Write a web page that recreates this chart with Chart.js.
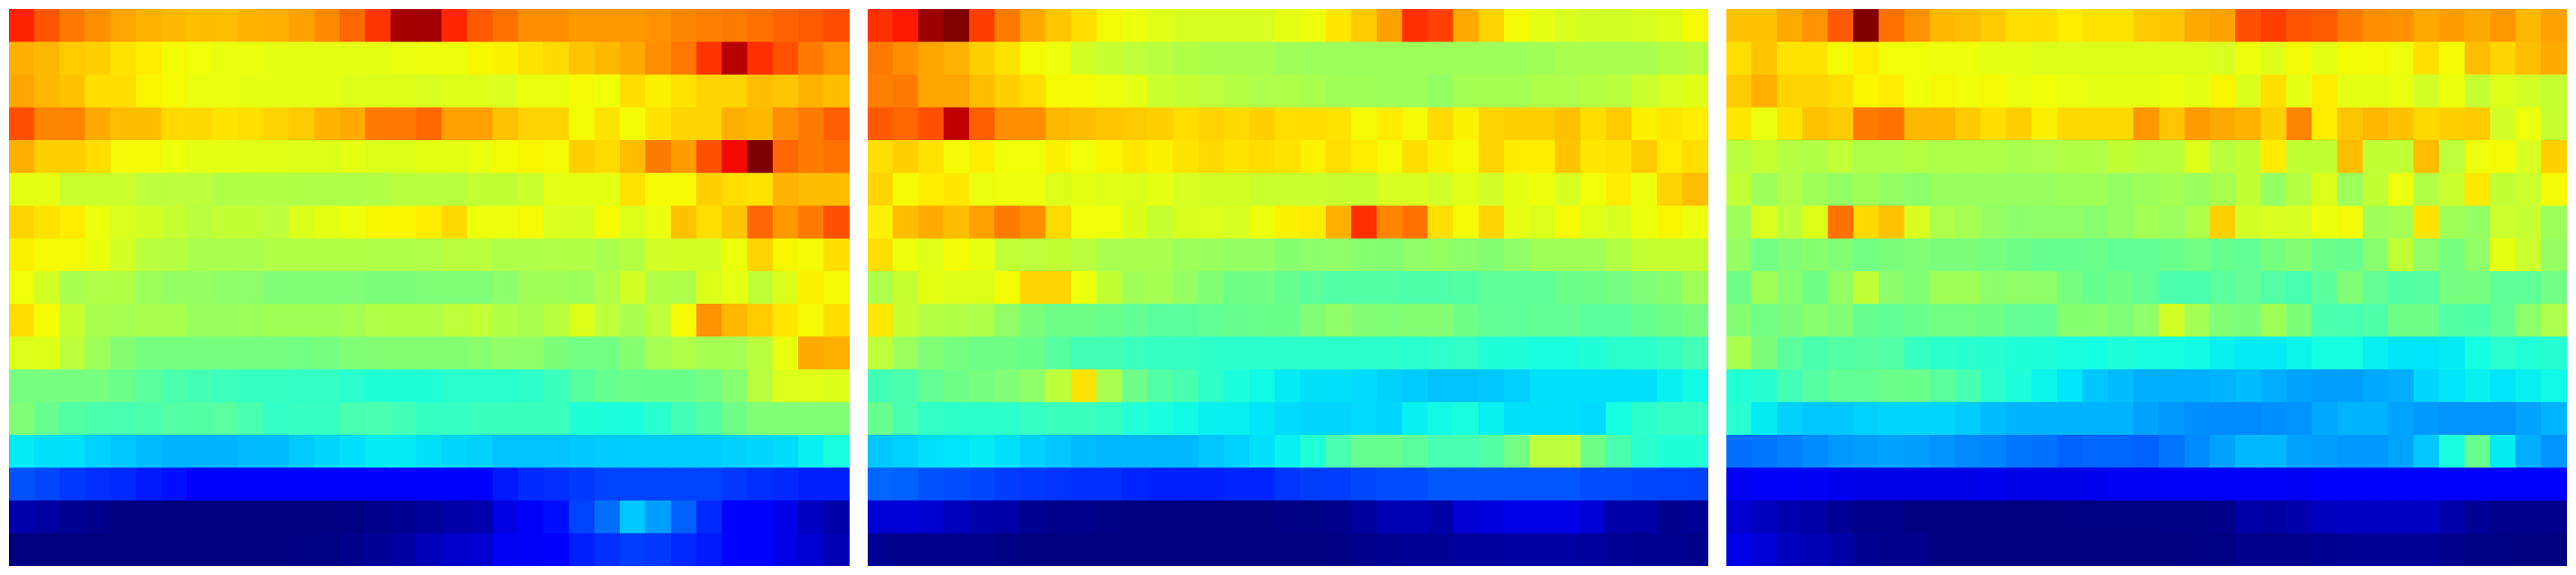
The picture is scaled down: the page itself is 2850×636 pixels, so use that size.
<!DOCTYPE html>
<html>
<head>
<meta charset="utf-8">
<title>Heatmaps</title>
<script src="https://cdn.jsdelivr.net/npm/chart.js@4/dist/chart.umd.min.js"></script>
<style>
    html, body { margin: 0; padding: 0; background: #fff; width: 2850px; height: 636px; overflow: hidden; }
    canvas { position: absolute; top: 10px; }
    #leftChart { left: 10px; }
    #middleChart { left: 960px; }
    #rightChart { left: 1910px; }
</style>
</head>
<body>
<canvas id="leftChart" width="930" height="616"></canvas>
<canvas id="middleChart" width="930" height="616"></canvas>
<canvas id="rightChart" width="930" height="616"></canvas>
<script>
const columns = ['1','2','3','4','5','6','7','8','9','10','11','12','13','14','15','16','17','18','19','20','21','22','23','24','25','26','27','28','29','30','31','32','33'];

// one line per row, top to bottom, values on the 0-1 colour range
const leftValues = [
    [.875,.82,.78,.76,.735,.72,.715,.71,.71,.72,.725,.74,.765,.80,.855,.965,.97,.87,.815,.79,.76,.76,.75,.75,.75,.755,.77,.775,.78,.79,.805,.815,.83],
    [.725,.715,.695,.69,.67,.66,.645,.64,.633,.633,.628,.628,.628,.628,.628,.633,.637,.637,.65,.655,.67,.68,.70,.715,.73,.76,.785,.855,.95,.86,.825,.78,.755],
    [.735,.715,.705,.675,.675,.65,.645,.633,.633,.628,.628,.628,.628,.622,.618,.618,.612,.618,.618,.612,.633,.633,.645,.64,.675,.655,.67,.685,.685,.71,.70,.72,.71],
    [.825,.77,.77,.73,.71,.71,.68,.68,.67,.675,.685,.695,.72,.73,.78,.78,.80,.74,.74,.705,.685,.685,.645,.67,.645,.67,.685,.685,.725,.715,.76,.78,.81],
    [.725,.69,.69,.675,.645,.645,.637,.628,.628,.622,.622,.618,.618,.628,.618,.618,.628,.628,.633,.645,.65,.645,.69,.68,.71,.78,.745,.825,.90,1,.80,.78,.79],
    [.628,.628,.595,.595,.595,.58,.58,.58,.565,.565,.565,.56,.56,.56,.565,.575,.575,.575,.585,.585,.595,.628,.628,.628,.67,.645,.645,.69,.675,.67,.72,.71,.71],
    [.685,.67,.66,.637,.612,.605,.59,.575,.585,.585,.58,.618,.628,.637,.65,.65,.66,.68,.637,.637,.645,.612,.612,.645,.618,.633,.705,.675,.70,.80,.75,.78,.825],
    [.655,.645,.645,.633,.605,.575,.57,.555,.555,.555,.565,.565,.565,.565,.56,.56,.565,.575,.575,.56,.56,.565,.565,.555,.57,.605,.605,.605,.637,.685,.65,.645,.675],
    [.64,.605,.555,.565,.565,.54,.53,.53,.525,.52,.505,.505,.505,.505,.50,.50,.505,.505,.505,.52,.545,.545,.54,.565,.605,.565,.56,.618,.628,.585,.618,.655,.645],
    [.675,.645,.59,.555,.55,.555,.555,.535,.535,.54,.545,.545,.545,.55,.565,.565,.565,.58,.585,.565,.555,.575,.618,.58,.555,.58,.645,.755,.715,.695,.665,.645,.675],
    [.618,.618,.58,.54,.51,.495,.495,.495,.495,.495,.495,.49,.495,.505,.51,.51,.51,.51,.515,.525,.525,.50,.49,.49,.515,.55,.565,.55,.55,.575,.633,.73,.725],
    [.495,.495,.495,.495,.48,.46,.44,.43,.42,.415,.415,.41,.41,.40,.39,.39,.39,.40,.40,.40,.405,.42,.455,.475,.48,.48,.48,.49,.515,.575,.618,.622,.618],
    [.505,.475,.45,.44,.435,.44,.45,.45,.455,.435,.41,.415,.415,.435,.44,.43,.415,.415,.42,.42,.42,.42,.39,.385,.385,.40,.43,.45,.485,.505,.505,.505,.505],
    [.355,.345,.345,.33,.32,.31,.30,.30,.30,.31,.31,.325,.335,.345,.355,.355,.345,.335,.33,.315,.315,.315,.32,.325,.325,.325,.325,.325,.33,.335,.34,.36,.38],
    [.205,.195,.18,.17,.165,.15,.14,.125,.12,.115,.115,.11,.11,.11,.11,.11,.115,.12,.125,.15,.165,.17,.18,.19,.19,.19,.19,.19,.18,.17,.165,.155,.155],
    [.04,.03,.015,.01,0,0,0,0,0,0,0,0,0,.003,.012,.015,.025,.035,.04,.085,.105,.14,.19,.235,.32,.28,.22,.165,.115,.11,.09,.06,.035],
    [0,0,0,0,0,0,0,0,0,0,0,.003,.005,.012,.02,.03,.05,.065,.07,.10,.105,.11,.155,.17,.185,.18,.165,.15,.115,.11,.09,.07,.045]
];

const middleValues = [
    [.86,.885,.975,1,.845,.78,.73,.70,.675,.645,.637,.622,.612,.612,.612,.612,.628,.637,.665,.695,.74,.86,.84,.73,.685,.645,.628,.612,.605,.605,.612,.618,.645],
    [.78,.76,.735,.72,.69,.67,.645,.637,.605,.59,.58,.575,.565,.555,.555,.555,.545,.54,.54,.54,.54,.54,.54,.54,.54,.54,.545,.555,.555,.555,.555,.57,.575],
    [.775,.78,.735,.735,.71,.69,.675,.645,.645,.637,.628,.595,.59,.58,.57,.56,.56,.555,.545,.545,.54,.54,.53,.55,.55,.55,.56,.56,.57,.575,.595,.612,.622],
    [.815,.80,.825,.945,.81,.76,.76,.715,.71,.70,.695,.69,.675,.685,.68,.69,.675,.675,.67,.645,.66,.645,.68,.655,.685,.69,.69,.705,.675,.695,.655,.665,.66],
    [.675,.69,.67,.645,.66,.64,.64,.655,.64,.65,.665,.655,.67,.68,.67,.675,.67,.655,.675,.66,.645,.675,.655,.645,.685,.66,.66,.70,.665,.67,.695,.66,.675],
    [.685,.645,.66,.665,.633,.637,.637,.618,.628,.622,.618,.628,.612,.605,.605,.595,.595,.595,.59,.59,.612,.612,.605,.622,.605,.628,.637,.612,.64,.66,.637,.685,.71],
    [.655,.71,.73,.71,.74,.78,.76,.68,.64,.64,.618,.59,.612,.618,.612,.637,.655,.66,.725,.86,.77,.79,.675,.645,.685,.628,.618,.645,.622,.612,.637,.65,.637],
    [.675,.637,.622,.645,.633,.585,.58,.585,.575,.555,.555,.555,.54,.535,.53,.53,.515,.52,.525,.515,.51,.525,.53,.52,.51,.525,.545,.545,.545,.565,.59,.59,.59],
    [.56,.59,.628,.618,.618,.645,.685,.685,.637,.585,.545,.55,.53,.505,.485,.49,.475,.46,.45,.45,.45,.445,.445,.45,.465,.465,.465,.48,.485,.495,.505,.515,.545],
    [.665,.59,.57,.565,.56,.525,.50,.485,.485,.48,.47,.46,.46,.47,.475,.48,.48,.505,.525,.51,.505,.51,.51,.485,.47,.465,.47,.47,.46,.46,.475,.485,.495],
    [.58,.535,.505,.495,.485,.485,.48,.455,.43,.43,.42,.415,.415,.405,.405,.405,.405,.405,.405,.405,.405,.40,.405,.41,.39,.385,.38,.38,.39,.40,.405,.415,.43],
    [.43,.44,.47,.485,.495,.505,.525,.58,.67,.555,.485,.45,.435,.405,.385,.37,.355,.345,.345,.34,.33,.325,.315,.315,.32,.33,.345,.345,.345,.345,.345,.36,.37],
    [.475,.44,.41,.405,.405,.405,.415,.42,.42,.415,.39,.38,.37,.36,.36,.35,.34,.335,.335,.34,.335,.36,.37,.38,.36,.345,.345,.345,.34,.375,.405,.415,.415],
    [.32,.33,.345,.35,.355,.345,.33,.32,.31,.305,.305,.305,.305,.32,.33,.345,.36,.39,.44,.475,.475,.46,.435,.435,.45,.49,.58,.58,.485,.44,.40,.39,.39],
    [.225,.22,.205,.20,.195,.185,.18,.175,.17,.17,.16,.155,.155,.155,.16,.16,.175,.185,.185,.195,.20,.20,.21,.21,.21,.21,.21,.21,.20,.20,.195,.19,.19],
    [.075,.075,.07,.055,.04,.035,.015,.01,.01,.005,0,0,0,0,0,0,.005,.005,.012,.025,.045,.045,.035,.075,.08,.09,.09,.09,.075,.035,.035,.015,.02],
    [.015,.01,.01,.01,.01,.005,0,0,0,0,0,0,0,0,0,0,0,0,.005,.012,.015,.02,.02,.025,.025,.03,.03,.03,.025,.02,.015,.015,.01]
];

const rightValues = [
    [.705,.705,.73,.755,.815,1,.79,.755,.715,.71,.695,.675,.675,.66,.67,.67,.695,.70,.73,.74,.825,.845,.82,.815,.78,.76,.755,.73,.745,.73,.75,.715,.74],
    [.675,.70,.67,.67,.645,.66,.64,.64,.637,.637,.628,.628,.618,.618,.618,.618,.618,.618,.618,.612,.637,.622,.645,.628,.645,.645,.637,.675,.645,.71,.685,.71,.73],
    [.695,.725,.685,.685,.675,.65,.66,.64,.645,.64,.645,.633,.64,.633,.628,.628,.628,.637,.628,.65,.618,.675,.628,.66,.628,.628,.633,.605,.637,.59,.618,.605,.59],
    [.665,.633,.67,.705,.695,.78,.79,.715,.715,.695,.675,.69,.655,.68,.68,.68,.75,.70,.745,.73,.72,.69,.77,.66,.70,.715,.705,.68,.69,.695,.605,.637,.59],
    [.575,.59,.57,.565,.585,.56,.56,.57,.56,.56,.56,.555,.56,.565,.565,.585,.575,.575,.618,.575,.585,.66,.585,.585,.71,.585,.585,.71,.58,.637,.645,.612,.69],
    [.585,.54,.565,.545,.53,.545,.53,.52,.535,.535,.535,.535,.535,.54,.545,.53,.54,.55,.535,.555,.585,.53,.57,.618,.54,.585,.637,.565,.595,.665,.585,.595,.645],
    [.54,.612,.58,.618,.79,.68,.705,.612,.56,.55,.53,.52,.525,.525,.515,.53,.55,.535,.56,.69,.605,.612,.612,.637,.645,.545,.55,.67,.545,.53,.595,.59,.54],
    [.53,.49,.505,.515,.505,.49,.50,.505,.50,.50,.495,.485,.475,.475,.48,.47,.47,.48,.49,.475,.47,.495,.51,.48,.475,.515,.585,.525,.495,.525,.628,.595,.53],
    [.485,.545,.515,.485,.53,.585,.52,.505,.545,.545,.52,.525,.525,.495,.475,.485,.47,.44,.44,.46,.47,.45,.435,.46,.505,.47,.45,.455,.495,.495,.465,.465,.49],
    [.51,.49,.50,.515,.505,.475,.47,.48,.49,.49,.485,.47,.47,.515,.515,.505,.52,.605,.55,.505,.50,.545,.50,.44,.435,.445,.485,.485,.45,.445,.47,.52,.56],
    [.555,.50,.46,.44,.45,.455,.45,.415,.405,.40,.395,.39,.385,.38,.375,.385,.38,.375,.37,.36,.355,.355,.365,.375,.375,.36,.35,.35,.355,.375,.40,.39,.395],
    [.39,.395,.43,.45,.47,.47,.48,.48,.46,.435,.40,.385,.365,.35,.32,.31,.295,.295,.295,.30,.31,.295,.285,.28,.28,.29,.295,.335,.35,.36,.35,.36,.37],
    [.395,.355,.33,.32,.32,.33,.335,.335,.335,.325,.31,.30,.30,.30,.30,.30,.285,.275,.265,.26,.26,.265,.27,.29,.30,.30,.285,.275,.27,.27,.27,.285,.30],
    [.235,.24,.25,.26,.275,.28,.285,.28,.27,.26,.255,.24,.235,.22,.225,.225,.22,.24,.26,.285,.305,.305,.285,.28,.275,.275,.285,.32,.38,.475,.355,.295,.27],
    [.10,.105,.105,.10,.095,.09,.09,.09,.09,.09,.095,.09,.09,.09,.095,.10,.10,.105,.105,.105,.105,.105,.10,.11,.115,.115,.12,.12,.12,.115,.11,.11,.11],
    [.07,.055,.04,.035,.02,.01,.01,0,0,0,0,0,0,.003,.003,.003,.003,.005,.005,.01,.035,.03,.04,.055,.06,.06,.06,.06,.04,.02,.01,.01,.01],
    [.09,.075,.055,.045,.035,.015,.012,.012,0,0,0,0,0,0,0,0,0,0,.003,.005,.012,.012,.012,.015,.02,.02,.02,.02,.012,.005,.003,0,0]
];

// piecewise segments of the jet colormap
function segment(v, stops) {
    for (let i = 1; i < stops.length; i++) {
        if (v <= stops[i][0]) {
            const a = stops[i - 1];
            const b = stops[i];
            return a[1] + (b[1] - a[1]) * (v - a[0]) / (b[0] - a[0]);
        }
    }
    return stops[stops.length - 1][1];
}

function jet(v) {
    const r = segment(v, [[0, 0], [.35, 0], [.66, 1], [.89, 1], [1, .5]]);
    const g = segment(v, [[0, 0], [.125, 0], [.375, 1], [.64, 1], [.91, 0], [1, 0]]);
    const b = segment(v, [[0, .5], [.11, 1], [.34, 1], [.65, 0], [1, 0]]);
    return `rgb(${Math.round(r * 255)},${Math.round(g * 255)},${Math.round(b * 255)})`;
}

function drawHeatmap(canvasId, rows) {
    // each row is a dataset of floating bars; the slight overlap stops white seams between cells
    const datasets = rows.map((values, rowIndex) => ({
        data: values.map(() => [rowIndex - 0.03, rowIndex + 1]),
        backgroundColor: values.map(jet),
        borderWidth: 0,
        barPercentage: 1.04,
        categoryPercentage: 1,
        grouped: false
    }));

    new Chart(document.getElementById(canvasId), {
        type: 'bar',
        data: { labels: columns, datasets: datasets },
        options: {
            responsive: false,
            animation: false,
            layout: { padding: 0 },
            plugins: { legend: { display: false }, tooltip: { enabled: false } },
            scales: {
                x: { display: false },
                y: { display: false, reverse: true, min: 0, max: rows.length }
            }
        }
    });
}

drawHeatmap('leftChart', leftValues);
drawHeatmap('middleChart', middleValues);
drawHeatmap('rightChart', rightValues);
</script>
</body>
</html>
